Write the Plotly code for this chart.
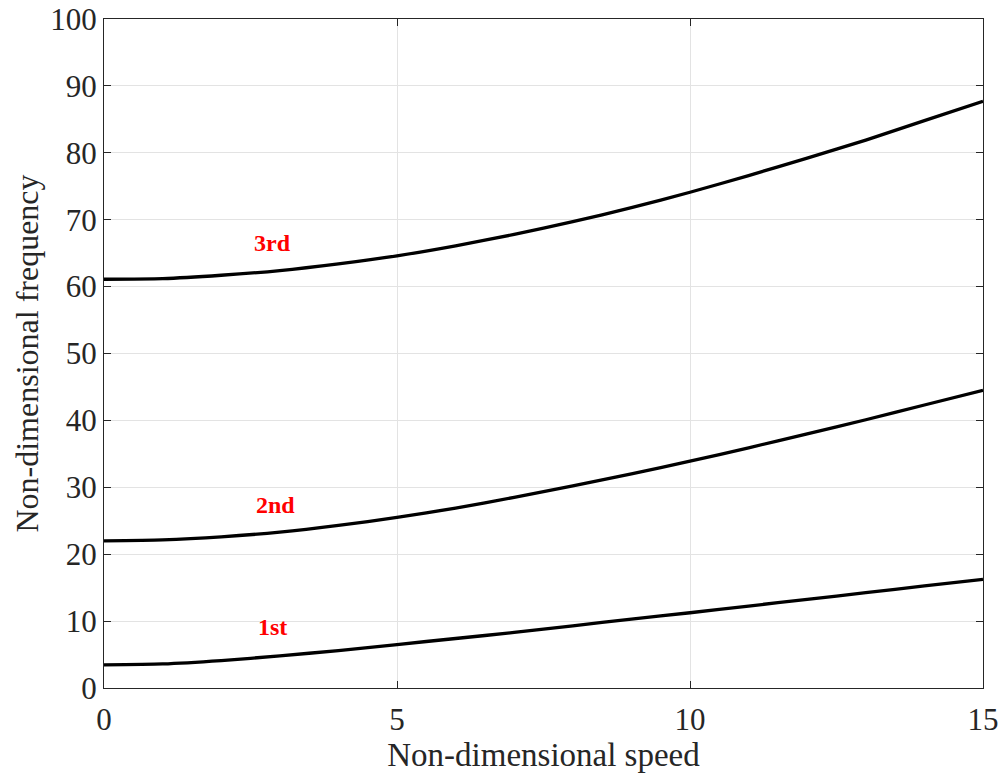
import plotly.graph_objects as go

# Non-dimensional speed samples and the first three natural frequencies
speed = [0, 1, 2, 3, 4, 5, 6, 7, 8, 9, 10, 11, 12, 13, 14, 15]
freq_1st = [3.45, 3.6, 4.1, 4.8, 5.6, 6.5, 7.4, 8.3, 9.3, 10.3, 11.25, 12.25, 13.25, 14.25, 15.25, 16.25]
freq_2nd = [22.0, 22.15, 22.6, 23.3, 24.3, 25.5, 26.9, 28.5, 30.2, 32.0, 33.9, 35.9, 38.0, 40.1, 42.3, 44.5]
freq_3rd = [61.1, 61.2, 61.7, 62.4, 63.4, 64.6, 66.1, 67.8, 69.7, 71.8, 74.1, 76.6, 79.2, 81.9, 84.8, 87.7]

mode_labels = ["1st", "2nd", "3rd"]
label_x = [2.87, 2.93, 2.87]
label_y = [9.1, 27.4, 66.5]

FONT = "Liberation Serif"
AXIS_COLOR = "#262626"

fig = go.Figure()
for series in (freq_1st, freq_2nd, freq_3rd):
    fig.add_trace(go.Scatter(
        x=speed, y=series, mode="lines",
        line=dict(color="black", width=3.3, shape="spline", smoothing=0.6),
        showlegend=False, hoverinfo="skip",
    ))

for text, lx, ly in zip(mode_labels, label_x, label_y):
    fig.add_annotation(
        x=lx, y=ly, text=f"<b>{text}</b>", showarrow=False,
        font=dict(family=FONT, size=24, color="red"),
        xanchor="center", yanchor="middle",
    )

axis_common = dict(
    showline=True, linecolor=AXIS_COLOR, linewidth=1, mirror="ticks",
    ticks="inside", ticklen=7, tickcolor=AXIS_COLOR, tickwidth=1,
    showgrid=True, gridcolor="#e3e3e3", gridwidth=1,
    zeroline=False, automargin=False,
    tickfont=dict(family=FONT, size=31, color=AXIS_COLOR),
)

fig.update_xaxes(
    range=[0, 15], tickvals=[0, 5, 10, 15], ticklabelstandoff=4,
    title=dict(text="Non-dimensional speed", font=dict(family=FONT, size=33, color=AXIS_COLOR), standoff=6),
    **axis_common,
)
fig.update_yaxes(
    range=[0, 100], tickvals=list(range(0, 101, 10)),
    title=dict(text="Non-dimensional frequency", font=dict(family=FONT, size=32, color=AXIS_COLOR), standoff=2),
    **axis_common,
)

fig.update_layout(
    width=1004, height=778,
    margin=dict(l=104, r=21, t=19, b=90),
    paper_bgcolor="white", plot_bgcolor="white",
)

fig.write_html("out.html")
